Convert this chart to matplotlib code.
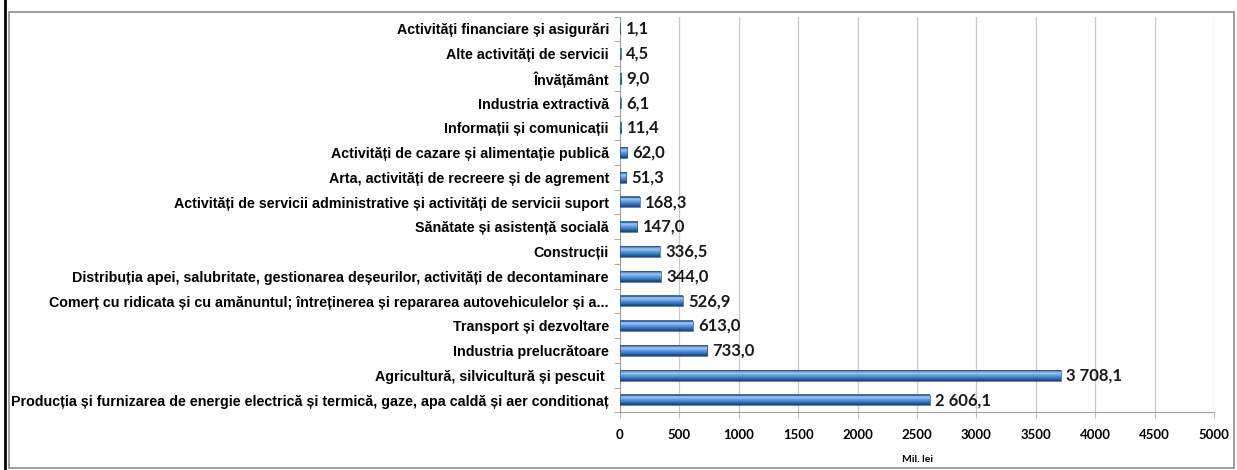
import numpy as np
import matplotlib as mpl
import matplotlib.pyplot as plt
from matplotlib.patches import Rectangle
from matplotlib.lines import Line2D

mpl.use('Agg')

categories = [
    "Activități financiare și asigurări",
    "Alte activități de servicii",
    "Învățământ",
    "Industria extractivă",
    "Informații și comunicații",
    "Activități de cazare și alimentație publică",
    "Arta, activități de recreere și de agrement",
    "Activități de servicii administrative și activități de servicii suport",
    "Sănătate și asistență socială",
    "Construcții",
    "Distribuția apei, salubritate, gestionarea deșeurilor, activități de decontaminare",
    "Comerț cu ridicata și cu amănuntul; întreținerea și repararea autovehiculelor și a...",
    "Transport și dezvoltare",
    "Industria prelucrătoare",
    "Agricultură, silvicultură și pescuit ",
    "Producția și furnizarea de energie electrică și termică, gaze, apa caldă și aer conditionaț",
]
values = [1.1, 4.5, 9.0, 6.1, 11.4, 62.0, 51.3, 168.3, 147.0, 336.5,
          344.0, 526.9, 613.0, 733.0, 3708.1, 2606.1]
xticks = [0, 500, 1000, 1500, 2000, 2500, 3000, 3500, 4000, 4500, 5000]
xlabel = "Mil. lei"

label_font = ['Liberation Sans', 'DejaVu Sans']
num_font = ['Lato', 'DejaVu Sans']


def fmt(v):
    s = "{:,.1f}".format(v)
    return s.replace(",", " ").replace(".", ",")


fig = plt.figure(figsize=(12.37, 4.70), dpi=100)
ax = fig.add_axes([620 / 1237, 1 - 412.4 / 470, 594 / 1237, 395.8 / 470])

n = len(categories)
ypos = np.arange(n)
bar_h = 0.43

# vertical gradient for the cylinder look (top -> bottom)
grad = np.linspace(0, 1, 9).reshape(-1, 1)
cmap = mpl.colors.LinearSegmentedColormap.from_list(
    'bar', [(0.0, '#3a6aa8'), (0.25, '#a8cbf0'), (0.5, '#5d9be0'),
            (0.75, '#3a78c4'), (1.0, '#1d4678')])

for y, v in zip(ypos, values):
    ax.imshow(grad, cmap=cmap, aspect='auto', interpolation='bicubic',
              extent=[0, v, y + bar_h / 2, y - bar_h / 2], zorder=3)
    ax.add_patch(Rectangle((0, y - bar_h / 2), v, bar_h, fill=False,
                           edgecolor='#2a5590', linewidth=0.5, zorder=4))
    ax.text(v + 45, y, fmt(v), va='center', ha='left', fontsize=12,
            fontweight='bold', family=num_font, color='#1a1a1a', zorder=5)

ax.set_xlim(0, 5000)
ax.set_ylim(n - 0.5, -0.5)
ax.set_xticks(xticks)
ax.set_xticklabels([str(t) for t in xticks], fontsize=9.5, fontweight='bold',
                   family=num_font)
ax.set_yticks(ypos)
ax.set_yticklabels(categories, fontsize=10.3, fontweight='bold',
                   family=label_font)
ax.set_yticks(np.arange(-0.5, n, 1), minor=True)
ax.tick_params(axis='y', which='major', length=0, pad=8)
ax.tick_params(axis='y', which='minor', length=4, color='#999999')
ax.tick_params(axis='x', length=4, color='#bbbbbb', pad=8)
ax.set_xlabel(xlabel, fontsize=7.5, fontweight='bold', family=num_font,
              labelpad=10)

ax.grid(axis='x', color='#c8c8c8', linewidth=0.9, zorder=0)
ax.set_axisbelow(True)
for s in ['top', 'right']:
    ax.spines[s].set_visible(False)
ax.spines['left'].set_color('#a0a0a0')
ax.spines['bottom'].set_color('#a0a0a0')

# outer chart frame and black left rule
fig.add_artist(Rectangle((9 / 1237, 2 / 470), 1225 / 1237, 456 / 470,
                         transform=fig.transFigure, fill=False,
                         edgecolor='#8c8c8c', linewidth=1.2))
fig.add_artist(Line2D([4.5 / 1237, 4.5 / 1237], [0, 1],
                      transform=fig.transFigure, color='black', linewidth=2))

fig.savefig('out.png', dpi=100)
